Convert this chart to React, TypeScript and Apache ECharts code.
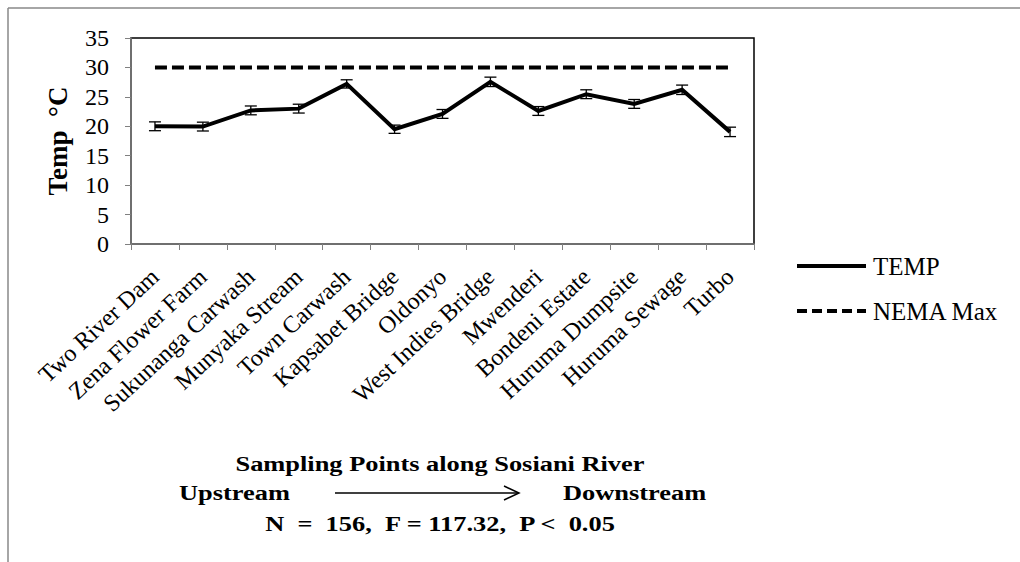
import React, { useEffect, useRef } from "react";
import * as echarts from "echarts";

const categories = [
  "Two River Dam",
  "Zena Flower Farm",
  "Sukunanga Carwash",
  "Munyaka Stream",
  "Town Carwash",
  "Kapsabet Bridge",
  "Oldonyo",
  "West Indies Bridge",
  "Mwenderi",
  "Bondeni Estate",
  "Huruma Dumpsite",
  "Huruma Sewage",
  "Turbo",
];
const tempValues = [20.0, 19.95, 22.7, 23.0, 27.2, 19.5, 22.1, 27.55, 22.6, 25.45, 23.8, 26.2, 19.05];
const tempErrors = [0.75, 0.75, 0.75, 0.75, 0.7, 0.7, 0.75, 0.8, 0.75, 0.75, 0.75, 0.8, 0.8];
const nemaMax = [30, 30, 30, 30, 30, 30, 30, 30, 30, 30, 30, 30, 30];
const yMin = 0;
const yMax = 35;
const yInterval = 5;
const seriesNames = ["TEMP", "NEMA Max"];
const yAxisName = "Temp  °C";
const xTitle = "Sampling Points along Sosiani River";
const upText = "Upstream";
const downText = "Downstream";
const statsText = "N  =  156,  F = 117.32,  P <  0.05";

const FONT = "'Liberation Serif', 'Times New Roman', serif";
const DASH = [12, 5];
const SX = 1.2;

export default function App() {
  const ref = useRef<HTMLDivElement>(null);
  useEffect(() => {
    if (!ref.current) return;
    const chart = echarts.init(ref.current, null, { renderer: "svg" });
    const errData = tempValues.map((v, i) => [i, v - tempErrors[i], v + tempErrors[i]]);
    const boldText = (text: string, x: number, y: number, align: string) => ({
      type: "text",
      x,
      y,
      scaleX: SX,
      style: { text, font: `bold 22px ${FONT}`, fill: "#000", align, verticalAlign: "middle" },
    });
    chart.setOption({
      animation: false,
      backgroundColor: "#fff",
      grid: {
        left: 131,
        top: 38,
        right: 266,
        bottom: 318,
        show: true,
        borderColor: "#000",
        borderWidth: 1.5,
      },
      xAxis: {
        type: "category",
        data: categories,
        boundaryGap: true,
        axisLine: { show: true, lineStyle: { color: "#808080", width: 1.5 } },
        axisTick: { show: true, interval: 0, length: 6, lineStyle: { color: "#808080", width: 1 } },
        axisLabel: {
          interval: 0,
          rotate: 43,
          margin: 29,
          fontFamily: FONT,
          fontSize: 24,
          color: "#000",
        },
        splitLine: { show: false },
      },
      yAxis: {
        type: "value",
        min: yMin,
        max: yMax,
        interval: yInterval,
        name: yAxisName,
        nameLocation: "middle",
        nameGap: 60,
        nameTextStyle: { fontFamily: FONT, fontSize: 27, fontWeight: "bold", color: "#000" },
        axisLine: { show: true, lineStyle: { color: "#808080", width: 1.5 } },
        axisTick: { show: true, length: 6, lineStyle: { color: "#808080", width: 1 } },
        axisLabel: { fontFamily: FONT, fontSize: 24, color: "#000", margin: 22 },
        splitLine: { show: false },
      },
      series: [
        {
          name: seriesNames[0],
          type: "line",
          data: tempValues,
          symbol: "none",
          lineStyle: { color: "#000", width: 4, join: "miter" },
          itemStyle: { color: "#000" },
          z: 3,
        },
        {
          name: seriesNames[1],
          type: "line",
          data: nemaMax,
          symbol: "none",
          lineStyle: { color: "#000", width: 4, type: DASH },
          itemStyle: { color: "#000" },
          z: 2,
        },
        {
          name: "err",
          type: "custom",
          data: errData,
          z: 4,
          renderItem: (params: any, api: any) => {
            const x = api.value(0);
            const lo = api.coord([x, api.value(1)]);
            const hi = api.coord([x, api.value(2)]);
            const w = 6;
            const style = { stroke: "#000", lineWidth: 1.3 };
            return {
              type: "group",
              children: [
                { type: "line", shape: { x1: lo[0], y1: lo[1], x2: hi[0], y2: hi[1] }, style },
                { type: "line", shape: { x1: lo[0] - w, y1: lo[1], x2: lo[0] + w, y2: lo[1] }, style },
                { type: "line", shape: { x1: hi[0] - w, y1: hi[1], x2: hi[0] + w, y2: hi[1] }, style },
              ],
            };
          },
        },
      ],
      graphic: [
        { type: "line", shape: { x1: 8, y1: 8, x2: 1020, y2: 8 }, style: { stroke: "#888", lineWidth: 1.5 } },
        { type: "line", shape: { x1: 8, y1: 8, x2: 8, y2: 562 }, style: { stroke: "#888", lineWidth: 1.5 } },
        // legend
        { type: "line", shape: { x1: 797, y1: 266, x2: 866, y2: 266 }, style: { stroke: "#000", lineWidth: 4 } },
        {
          type: "text",
          x: 873,
          y: 266,
          style: { text: seriesNames[0], font: `25px ${FONT}`, fill: "#000", align: "left", verticalAlign: "middle" },
        },
        {
          type: "line",
          shape: { x1: 797, y1: 311, x2: 866, y2: 311 },
          style: { stroke: "#000", lineWidth: 4, lineDash: [10, 5] },
        },
        {
          type: "text",
          x: 873,
          y: 311,
          style: { text: seriesNames[1], font: `25px ${FONT}`, fill: "#000", align: "left", verticalAlign: "middle" },
        },
        // axis title block
        boldText(xTitle, 440, 463, "center"),
        boldText(upText, 179, 492, "left"),
        boldText(downText, 563, 492, "left"),
        { type: "line", shape: { x1: 335, y1: 493, x2: 518, y2: 493 }, style: { stroke: "#000", lineWidth: 1.5 } },
        {
          type: "polyline",
          shape: { points: [[504, 486], [519, 493], [504, 500]] },
          style: { stroke: "#000", lineWidth: 1.5, fill: "none" },
        },
        boldText(statsText, 440, 523, "center"),
      ],
    });
    return () => chart.dispose();
  }, []);
  return (
    <div
      ref={ref}
      style={{ position: "fixed", left: 0, top: 0, width: 1020, height: 562, background: "#fff" }}
    />
  );
}
